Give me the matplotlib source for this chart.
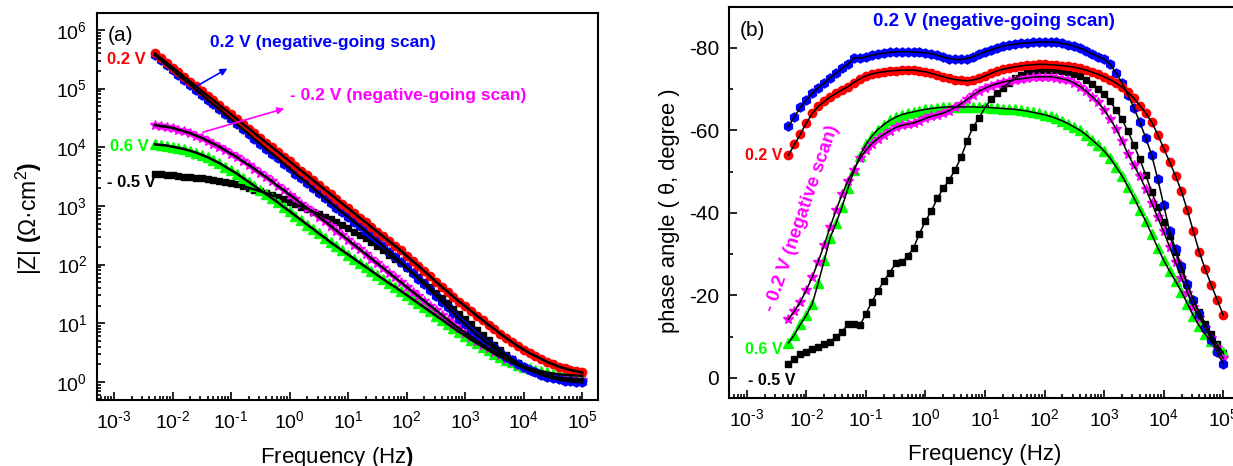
import numpy as np
import matplotlib
matplotlib.use("Agg")
import matplotlib.pyplot as plt
from matplotlib.ticker import LogLocator, MultipleLocator, NullFormatter, FuncFormatter

plt.rcParams['font.family'] = ['Liberation Sans', 'DejaVu Sans']
plt.rcParams['mathtext.fontset'] = 'custom'
plt.rcParams['mathtext.rm'] = 'Liberation Sans'
plt.rcParams['mathtext.bf'] = 'Liberation Sans:bold'
plt.rcParams['mathtext.it'] = 'Liberation Sans:italic'
plt.rcParams['axes.unicode_minus'] = False

# measurement frequencies (Hz), 10 points per decade
freq = [0.00501, 0.00631, 0.00794,
        0.0100, 0.0126, 0.0158, 0.0200, 0.0251, 0.0316, 0.0398, 0.0501, 0.0631, 0.0794,
        0.100, 0.126, 0.158, 0.200, 0.251, 0.316, 0.398, 0.501, 0.631, 0.794,
        1.00, 1.26, 1.58, 2.00, 2.51, 3.16, 3.98, 5.01, 6.31, 7.94,
        10.0, 12.6, 15.8, 20.0, 25.1, 31.6, 39.8, 50.1, 63.1, 79.4,
        100, 126, 158, 200, 251, 316, 398, 501, 631, 794,
        1000, 1259, 1585, 1995, 2512, 3162, 3981, 5012, 6310, 7943,
        10000, 12589, 15849, 19953, 25119, 31623, 39811, 50119, 63096, 79433,
        100000]

# log10 |Z| (ohm cm2)
logz_02 = [5.60, 5.52, 5.44,
           5.36, 5.28, 5.20, 5.12, 5.04, 4.96, 4.88, 4.80, 4.72, 4.64,
           4.56, 4.48, 4.40, 4.32, 4.24, 4.16, 4.08, 4.00, 3.92, 3.84,
           3.76, 3.68, 3.60, 3.52, 3.44, 3.36, 3.28, 3.20, 3.12, 3.04,
           2.96, 2.88, 2.80, 2.72, 2.64, 2.56, 2.48, 2.40, 2.32, 2.24,
           2.15, 2.06, 1.98, 1.89, 1.80, 1.71, 1.62, 1.54, 1.45, 1.37,
           1.29, 1.21, 1.13, 1.05, 0.97, 0.90, 0.82, 0.75, 0.68, 0.61,
           0.55, 0.49, 0.44, 0.39, 0.34, 0.30, 0.26, 0.23, 0.20, 0.18,
           0.16]
logz_02neg = [5.57, 5.49, 5.40,
              5.32, 5.23, 5.15, 5.07, 4.98, 4.90, 4.81, 4.73, 4.65, 4.56,
              4.48, 4.39, 4.31, 4.23, 4.14, 4.06, 3.97, 3.89, 3.81, 3.72,
              3.64, 3.55, 3.47, 3.39, 3.30, 3.22, 3.13, 3.05, 2.97, 2.89,
              2.81, 2.73, 2.65, 2.57, 2.48, 2.40, 2.31, 2.22, 2.13, 2.04,
              1.95, 1.85, 1.76, 1.66, 1.57, 1.47, 1.37, 1.27, 1.17, 1.07,
              0.98, 0.89, 0.80, 0.72, 0.64, 0.57, 0.50, 0.43, 0.37, 0.31,
              0.25, 0.20, 0.16, 0.12, 0.09, 0.06, 0.04, 0.02, 0.01, 0.00,
              -0.01]
logz_m05 = [3.54, 3.54, 3.53,
            3.52, 3.51, 3.50, 3.49, 3.48, 3.47, 3.46, 3.45, 3.43, 3.41,
            3.39, 3.37, 3.34, 3.31, 3.28, 3.25, 3.22, 3.18, 3.15, 3.11,
            3.07, 3.03, 2.99, 2.95, 2.90, 2.86, 2.81, 2.77, 2.72, 2.67,
            2.62, 2.56, 2.51, 2.45, 2.38, 2.31, 2.24, 2.17, 2.09, 2.02,
            1.94, 1.86, 1.78, 1.70, 1.61, 1.52, 1.43, 1.34, 1.25, 1.16,
            1.07, 0.98, 0.89, 0.80, 0.71, 0.62, 0.54, 0.46, 0.39, 0.32,
            0.26, 0.21, 0.17, 0.14, 0.11, 0.09, 0.07, 0.06, 0.05, 0.05,
            0.04]
logz_06 = [4.05, 4.04, 4.03,
           4.01, 3.99, 3.97, 3.94, 3.91, 3.87, 3.83, 3.78, 3.73, 3.67,
           3.61, 3.55, 3.48, 3.41, 3.34, 3.27, 3.20, 3.13, 3.06, 2.98,
           2.91, 2.83, 2.76, 2.68, 2.61, 2.53, 2.46, 2.38, 2.31, 2.24,
           2.17, 2.10, 2.03, 1.96, 1.89, 1.82, 1.75, 1.68, 1.62, 1.55,
           1.48, 1.41, 1.34, 1.27, 1.20, 1.13, 1.06, 0.99, 0.92, 0.85,
           0.79, 0.72, 0.66, 0.60, 0.54, 0.48, 0.43, 0.38, 0.33, 0.29,
           0.26, 0.23, 0.20, 0.18, 0.16, 0.14, 0.13, 0.12, 0.11, 0.11,
           0.10]
logz_m02 = [4.38, 4.36, 4.35,
            4.33, 4.30, 4.27, 4.24, 4.20, 4.16, 4.11, 4.06, 4.01, 3.95,
            3.89, 3.83, 3.76, 3.70, 3.63, 3.56, 3.49, 3.42, 3.34, 3.27,
            3.19, 3.12, 3.04, 2.96, 2.89, 2.81, 2.74, 2.66, 2.58, 2.50,
            2.42, 2.34, 2.26, 2.18, 2.10, 2.02, 1.94, 1.86, 1.78, 1.70,
            1.62, 1.54, 1.46, 1.38, 1.30, 1.22, 1.14, 1.06, 0.98, 0.91,
            0.84, 0.77, 0.70, 0.63, 0.57, 0.51, 0.45, 0.39, 0.34, 0.29,
            0.24, 0.20, 0.16, 0.13, 0.10, 0.08, 0.06, 0.05, 0.04, 0.03,
            0.03]

# phase angle (degree)
ph_02 = [-54.0, -56.6, -59.1,
         -61.8, -64.1, -65.8, -67.0, -68.1, -69.0, -69.8, -70.6, -71.6, -72.5,
         -73.2, -73.7, -74.0, -74.2, -74.4, -74.5, -74.6, -74.6, -74.6, -74.4,
         -74.2, -73.8, -73.4, -73.0, -72.6, -72.3, -72.1, -72.0, -72.2, -72.6,
         -73.2, -73.8, -74.4, -74.8, -75.1, -75.4, -75.6, -75.8, -75.9, -76.0,
         -76.0, -75.9, -75.8, -75.7, -75.5, -75.3, -75.0, -74.6, -74.1, -73.6,
         -73.0, -72.3, -71.5, -70.5, -69.2, -67.8, -66.0, -64.2, -62.0, -59.0,
         -55.7, -52.4, -49.0, -45.2, -40.6, -35.5, -30.5, -26.3, -22.6, -18.9,
         -15.3]
ph_02neg = [-61.0, -63.3, -65.6,
            -67.4, -69.0, -70.3, -71.5, -72.7, -73.9, -75.0, -76.0, -77.6, -77.5,
            -77.8, -78.2, -78.5, -78.7, -78.9, -79.0, -79.1, -79.1, -79.0, -78.9,
            -78.8, -78.6, -78.2, -77.8, -77.4, -77.2, -77.2, -77.4, -77.9, -78.5,
            -79.0, -79.5, -80.0, -80.4, -80.7, -80.9, -81.1, -81.2, -81.3, -81.4,
            -81.4, -81.4, -81.3, -81.1, -80.8, -80.4, -79.9, -79.3, -78.6, -77.9,
            -77.3, -76.0, -74.0, -71.5, -68.6, -65.5, -62.0, -58.2, -54.0, -48.3,
            -42.0, -35.6, -31.2, -27.1, -22.8, -18.8, -15.6, -12.2, -9.3, -6.2,
            -3.5]
ph_m05 = [-3.5, -4.6, -5.8,
          -6.3, -7.1, -7.6, -8.3, -8.7, -10.0, -11.2, -13.0, -13.2, -12.8,
          -15.5, -18.5, -21.0, -23.5, -25.5, -27.8, -28.0, -29.5, -31.5, -35.0,
          -38.0, -40.5, -43.5, -46.0, -48.0, -50.5, -53.5, -57.5, -60.8, -63.0,
          -65.5, -67.5, -69.0, -70.3, -71.5, -72.6, -73.4, -74.0, -74.4, -74.6,
          -74.7, -74.7, -74.6, -74.4, -74.1, -73.7, -73.1, -72.3, -71.3, -70.1,
          -68.7, -67.0, -65.0, -62.7, -59.8, -56.5, -53.0, -49.2, -45.0, -41.5,
          -37.8, -34.5, -30.5, -26.3, -22.5, -19.0, -16.0, -13.2, -10.6, -8.2,
          -6.0]
ph_06 = [-8.5, -10.5, -13.0,
         -15.2, -18.0, -23.0, -28.5, -34.0, -37.5, -41.5, -46.0, -50.3, -53.8,
         -56.6, -58.6, -60.2, -61.4, -62.4, -63.2, -63.8, -64.2, -64.5, -64.8,
         -65.1, -65.3, -65.5, -65.6, -65.7, -65.7, -65.7, -65.7, -65.7, -65.6,
         -65.6, -65.5, -65.4, -65.3, -65.2, -65.1, -64.9, -64.7, -64.4, -64.1,
         -63.8, -63.4, -62.9, -62.3, -61.6, -60.8, -60.0, -58.9, -57.7, -56.4,
         -55.0, -53.3, -51.2, -49.0, -46.4, -43.7, -40.8, -38.0, -34.8, -31.6,
         -28.6, -25.9, -23.5, -20.9, -18.0, -15.1, -12.6, -10.6, -8.9, -7.5,
         -6.3]
ph_m02 = [-14.3, -16.2, -18.5,
          -21.3, -24.5, -28.2, -32.3, -36.6, -40.7, -44.5, -47.8, -50.5, -53.2,
          -55.2, -56.8, -58.0, -59.0, -59.9, -60.7, -61.2, -61.5, -61.8, -62.3,
          -62.9, -63.4, -63.8, -64.2, -64.8, -65.6, -66.5, -67.5, -68.6, -69.5,
          -70.2, -70.8, -71.3, -71.7, -72.0, -72.3, -72.5, -72.7, -72.9, -73.0,
          -73.0, -73.0, -72.8, -72.5, -72.1, -71.5, -70.6, -69.5, -68.2, -66.8,
          -65.0, -62.8, -60.4, -57.5, -54.3, -51.5, -48.9, -45.8, -42.4, -38.9,
          -35.5, -31.8, -28.0, -24.2, -20.7, -17.2, -14.6, -12.2, -9.8, -7.3,
          -4.8]

# (modulus, phase, color, marker, size) for each potential
series = [
    (logz_m05, ph_m05, 'black', 's', 5),
    (logz_06, ph_06, '#00ff00', '^', 6.5),
    (logz_m02, ph_m02, '#ff00ff', '*', 7),
    (logz_02neg, ph_02neg, '#0000ff', 'h', 6.5),
    (logz_02, ph_02, '#ff0000', 'o', 6),
]


def pow10(v, pos):
    e = int(round(np.log10(v)))
    s = str(e).replace('-', '\u2010')
    return '10$^{\\mathregular{' + s + '}}$'


fig = plt.figure(figsize=(12.33, 4.66), dpi=100)
ax1 = fig.add_axes([0.0787, 0.1416, 0.4063, 0.8305])
ax2 = fig.add_axes([0.5912, 0.1459, 0.4153, 0.8391])

for lz, ph, c, m, s in series:
    z = 10 ** np.array(lz)
    ax1.plot(freq, z, ls='none', marker=m, color=c, ms=s, mec=c, zorder=2)
    ax2.plot(freq, ph, ls='none', marker=m, color=c, ms=s, mec=c, zorder=2)

# fitted curves
for lz, ph, c, m, s in series:
    ax1.plot(freq, 10 ** np.array(lz), color='black', lw=1.8, zorder=3)
    ax2.plot(freq, ph, color='black', lw=1.1, zorder=3)

# --- panel (a) ---
ax1.set_xscale('log')
ax1.set_yscale('log')
ax1.set_xlim(10 ** -3.29, 10 ** 5.27)
ax1.set_ylim(10 ** -0.31, 10 ** 6.29)
for axis in (ax1.xaxis, ax1.yaxis):
    axis.set_major_locator(LogLocator(base=10, numticks=20))
    axis.set_major_formatter(FuncFormatter(pow10))
    axis.set_minor_locator(LogLocator(base=10, subs=np.arange(2, 10), numticks=100))
    axis.set_minor_formatter(NullFormatter())
ax1.set_xlabel('Frequency (Hz$\\mathbf{)}$', fontsize=16)
ax1.xaxis.set_label_coords(0.48, -0.115)
ax1.set_ylabel('|Z| $\\mathbf{(}$Ω·cm$^{2}$$\\mathbf{)}$', fontsize=16.5)
ax1.yaxis.set_label_coords(-0.105, 0.47)

ax1.text(0.022, 0.943, '(a)', transform=ax1.transAxes, fontsize=15, va='center')
ax1.text(0.226, 0.925, '0.2 V (negative-going scan)', transform=ax1.transAxes,
         color='#0000ff', fontsize=12.5, fontweight='bold', va='center')
ax1.text(0.020, 0.879, '0.2 V', transform=ax1.transAxes, color='#ff0000',
         fontsize=12, fontweight='bold', va='center')
ax1.text(0.385, 0.786, '- 0.2 V (negative-going scan)', transform=ax1.transAxes,
         color='#ff00ff', fontsize=12.5, fontweight='bold', va='center')
ax1.text(0.026, 0.656, '0.6 V', transform=ax1.transAxes, color='#00ff00',
         fontsize=12, fontweight='bold', va='center')
ax1.text(0.020, 0.561, '- 0.5 V', transform=ax1.transAxes, color='black',
         fontsize=12, fontweight='bold', va='center')
ax1.annotate('', xy=(0.265, 0.860), xytext=(0.196, 0.809), xycoords='axes fraction',
             arrowprops=dict(arrowstyle='-|>', color='#0000ff', lw=1.2, mutation_scale=10))
ax1.annotate('', xy=(0.379, 0.755), xytext=(0.206, 0.690), xycoords='axes fraction',
             arrowprops=dict(arrowstyle='-|>', color='#ff00ff', lw=1.2, mutation_scale=10))

# --- panel (b) ---
ax2.set_xscale('log')
ax2.set_xlim(10 ** -3.30, 10 ** 5.30)
ax2.set_ylim(4.85, -89.9)
ax2.xaxis.set_major_locator(LogLocator(base=10, numticks=20))
ax2.xaxis.set_major_formatter(FuncFormatter(pow10))
ax2.xaxis.set_minor_locator(LogLocator(base=10, subs=np.arange(2, 10), numticks=100))
ax2.xaxis.set_minor_formatter(NullFormatter())
ax2.yaxis.set_major_locator(MultipleLocator(20))
ax2.yaxis.set_minor_locator(MultipleLocator(10))
ax2.set_xlabel('Frequency (Hz)', fontsize=16)
ax2.xaxis.set_label_coords(0.5, -0.118)
ax2.set_ylabel('phase angle ( θ, degree )', fontsize=15.8)
ax2.yaxis.set_label_coords(-0.096, 0.48)

ax2.text(0.021, 0.941, '(b)', transform=ax2.transAxes, fontsize=15, va='center')
ax2.text(0.281, 0.962, '0.2 V (negative-going scan)', transform=ax2.transAxes,
         color='#0000ff', fontsize=13.5, fontweight='bold', va='center')
ax2.text(0.031, 0.621, '0.2 V', transform=ax2.transAxes, color='#ff0000',
         fontsize=11.5, fontweight='bold', va='center')
ax2.text(0.143, 0.458, '- 0.2 V (negative scan)', transform=ax2.transAxes,
         color='#ff00ff', fontsize=13.5, fontweight='bold', va='center', ha='center',
         rotation=71, rotation_mode='anchor')
ax2.text(0.031, 0.125, '0.6 V', transform=ax2.transAxes, color='#00ff00',
         fontsize=11.5, fontweight='bold', va='center')
ax2.text(0.037, 0.046, '- 0.5 V', transform=ax2.transAxes, color='black',
         fontsize=11.5, fontweight='bold', va='center')

for ax in (ax1, ax2):
    for sp in ax.spines.values():
        sp.set_linewidth(1.5)
    ax.tick_params(which='both', direction='in', top=False, right=False,
                   labelsize=14, width=1.2)
    ax.tick_params(which='major', length=6, pad=7)
    ax.tick_params(which='minor', length=3)
ax2.tick_params(axis='y', labelsize=15)

fig.savefig('out.png', dpi=100)
